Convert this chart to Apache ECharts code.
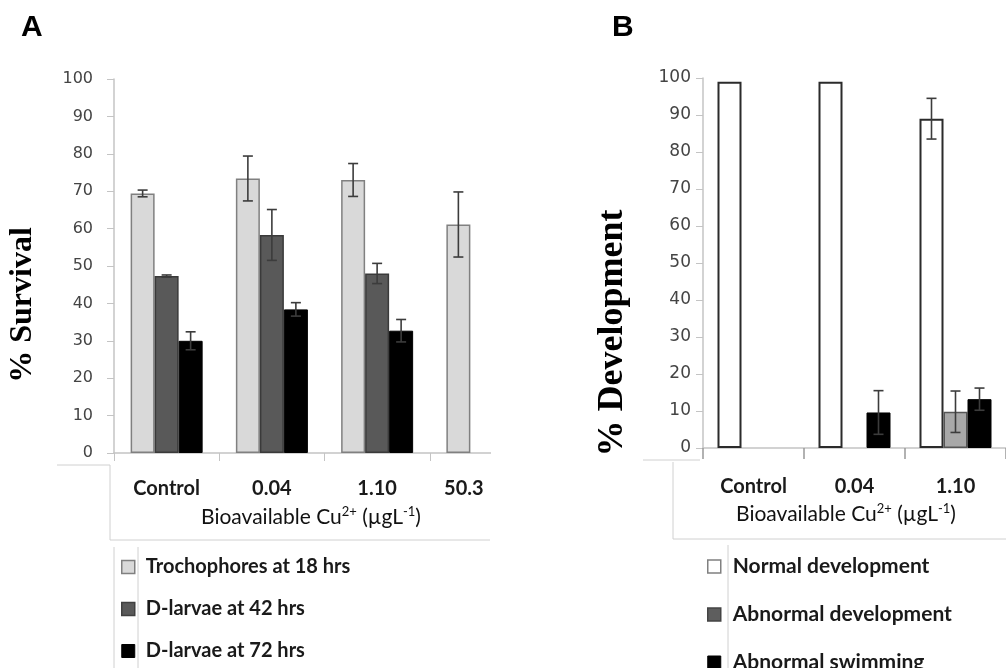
<!DOCTYPE html>
<html><head><meta charset="utf-8">
<script src="https://cdn.jsdelivr.net/npm/echarts@6/dist/echarts.min.js"></script>
<style>html,body{margin:0;padding:0;background:#fff}#c{width:1006px;height:668px}</style>
</head><body><div id="c"></div>
<script>
// ---- Panel A data ----
const catsA = ['Control', '0.04', '1.10', '50.3'];
const trochA = [69.4, 73.4, 73.0, 61.1];
const trochErrA = [0.9, 6.0, 4.4, 8.7];
const d42A = [47.3, 58.3, 48.0, null];
const d42ErrA = [0.3, 6.8, 2.7, null];
const d72A = [30.0, 38.4, 32.7, null];
const d72ErrA = [2.4, 1.8, 3.0, null];
// ---- Panel B data ----
const catsB = ['Control', '0.04', '1.10'];
const normalB = [99, 99, 89];
const normalErrB = [null, null, 5.5];
const abDevB = [null, null, 9.8];
const abDevErrB = [null, null, 5.6];
const abSwimB = [null, 9.6, 13.2];
const abSwimErrB = [null, 5.9, 3.0];

const chart = echarts.init(document.getElementById('c'), null, {renderer: 'canvas'});
const BW = 24;
function errData(vals, errs) {
  const out = [];
  vals.forEach((v, i) => { if (v != null && errs[i] != null) out.push([i, v, errs[i]]); });
  return out;
}
function errSeries(vals, errs, offset, xi) {
  return {
    type: 'custom', xAxisIndex: xi, yAxisIndex: xi, z: 5,
    data: errData(vals, errs), encode: {x: 0, y: 1},
    renderItem: function (params, api) {
      const i = api.value(0), v = api.value(1), e = api.value(2);
      const t = api.coord([i, v + e]), b = api.coord([i, v - e]);
      const x = t[0] + offset;
      const st = {stroke: '#3c3c3c', lineWidth: 1.6};
      return {type: 'group', children: [
        {type: 'line', shape: {x1: x, y1: t[1], x2: x, y2: b[1]}, style: st},
        {type: 'line', shape: {x1: x - 5, y1: t[1], x2: x + 5, y2: t[1]}, style: st},
        {type: 'line', shape: {x1: x - 5, y1: b[1], x2: x + 5, y2: b[1]}, style: st}
      ]};
    }
  };
}
const gridLine = '#c4c4c4';
function yAxis(gi, fs, margin) {
  return {
    type: 'value', gridIndex: gi, min: 0, max: 100, interval: 10,
    axisLine: {show: true, lineStyle: {color: gridLine, width: 1.5}},
    axisTick: {show: true, length: 7, lineStyle: {color: gridLine}},
    splitLine: {show: false},
    axisLabel: {color: '#444', fontFamily: 'DejaVu Sans', fontSize: fs, margin: margin}
  };
}
const supRich = {
  sup: {fontSize: 13, fontFamily: 'Lato', color: '#111', verticalAlign: 'top', lineHeight: 14},
  n: {fontSize: 21, fontFamily: 'Lato', color: '#111', lineHeight: 24}
};
const axisName = '{n|Bioavailable Cu}{sup|2+}{n| (µgL}{sup|-1}{n|)}';

const option = {
  animation: false,
  backgroundColor: '#fff',
  grid: [
    {left: 114, top: 79, width: 421, bottom: 215, containLabel: false},
    {left: 703, top: 78, width: 321, bottom: 220, containLabel: false}
  ],
  xAxis: [
    {type: 'category', gridIndex: 0, data: catsA,
      axisLine: {show: true, lineStyle: {color: gridLine, width: 1.5}},
      axisTick: {show: true, length: 8, lineStyle: {color: gridLine}},
      axisLabel: {margin: 26, fontFamily: 'Lato', fontWeight: 'bold', fontSize: 20, color: '#1a1a1a',
        formatter: function (v) { return v === '50.3' ? '{s|' + v + '}' : v; },
        rich: {s: {fontFamily: 'Lato', fontWeight: 'bold', fontSize: 20, color: '#1a1a1a', padding: [0, 37, 0, 0]}}},
      name: axisName, nameLocation: 'middle', nameGap: 52,
      nameTextStyle: {rich: supRich, padding: [0, 27, 0, 0]}
    },
    {type: 'category', gridIndex: 1, data: catsB,
      axisLine: {show: true, lineStyle: {color: gridLine, width: 1.5}},
      axisTick: {show: true, length: 11, lineStyle: {color: '#999', width: 1.5}},
      axisLabel: {margin: 29, fontFamily: 'Lato', fontWeight: 'bold', fontSize: 20, color: '#1a1a1a'},
      name: axisName, nameLocation: 'middle', nameGap: 54,
      nameTextStyle: {rich: supRich, padding: [0, 17, 0, 0]}
    }
  ],
  yAxis: [
    Object.assign(yAxis(0, 16, 21), {name: '% Survival', nameLocation: 'middle', nameGap: 75, nameRotate: 90,
      nameTextStyle: {fontFamily: 'Liberation Serif', fontWeight: 'bold', fontSize: 32, color: '#000', padding: [0, 78, 0, 0]}}),
    Object.assign(yAxis(1, 17, 12), {name: '% Development', nameLocation: 'middle', nameGap: 72, nameRotate: 90,
      nameTextStyle: {fontFamily: 'Liberation Serif', fontWeight: 'bold', fontSize: 36, color: '#000', padding: [0, 140, 0, 0]}})
  ],
  legend: [
    {orient: 'vertical', left: 121, top: 557, height: 130, padding: 0, itemWidth: 13, itemHeight: 13, itemGap: 22, selectedMode: false,
      textStyle: {fontFamily: 'Lato', fontWeight: 'bold', fontSize: 20, color: '#1a1a1a', lineHeight: 20, padding: [0, 0, 0, 6]},
      data: [
        {name: 'Trochophores at 18 hrs', icon: 'rect', itemStyle: {color: '#d9d9d9', borderColor: '#808080', borderWidth: 1.5}},
        {name: 'D-larvae at 42 hrs', icon: 'rect', itemStyle: {color: '#595959', borderColor: '#404040', borderWidth: 1.5}},
        {name: 'D-larvae at 72 hrs', icon: 'rect', itemStyle: {color: '#000', borderColor: '#000', borderWidth: 1}}
      ]},
    {orient: 'vertical', left: 707, top: 556, height: 130, padding: 0, itemWidth: 13, itemHeight: 13, itemGap: 27, selectedMode: false,
      textStyle: {fontFamily: 'Lato', fontWeight: 'bold', fontSize: 21, color: '#1a1a1a', lineHeight: 20, padding: [0, 0, 0, 7]},
      data: [
        {name: 'Normal development', icon: 'rect', itemStyle: {color: '#fff', borderColor: '#808080', borderWidth: 1.5}},
        {name: 'Abnormal development', icon: 'rect', itemStyle: {color: '#5e5e5e', borderColor: '#444', borderWidth: 1.5}},
        {name: 'Abnormal swimming', icon: 'rect', itemStyle: {color: '#000', borderColor: '#000', borderWidth: 1}}
      ]}
  ],
  series: [
    {name: 'Trochophores at 18 hrs', type: 'bar', xAxisIndex: 0, yAxisIndex: 0, data: trochA, barWidth: BW, barGap: '0%',
      itemStyle: {color: '#d9d9d9', borderColor: '#808080', borderWidth: 1.5}},
    {name: 'D-larvae at 42 hrs', type: 'bar', xAxisIndex: 0, yAxisIndex: 0, data: d42A, barWidth: BW, barGap: '0%',
      itemStyle: {color: '#595959', borderColor: '#3a3a3a', borderWidth: 1.5}},
    {name: 'D-larvae at 72 hrs', type: 'bar', xAxisIndex: 0, yAxisIndex: 0, data: d72A, barWidth: BW, barGap: '0%',
      itemStyle: {color: '#000', borderColor: '#000', borderWidth: 1}},
    errSeries(trochA, trochErrA, -BW, 0),
    errSeries(d42A, d42ErrA, 0, 0),
    errSeries(d72A, d72ErrA, BW, 0),
    {name: 'Normal development', type: 'bar', xAxisIndex: 1, yAxisIndex: 1, data: normalB, barWidth: BW, barGap: '0%',
      itemStyle: {color: '#fff', borderColor: '#2b2b2b', borderWidth: 2}},
    {name: 'Abnormal development', type: 'bar', xAxisIndex: 1, yAxisIndex: 1, data: abDevB, barWidth: BW, barGap: '0%',
      itemStyle: {color: '#a8a8a8', borderColor: '#555', borderWidth: 1.5}},
    {name: 'Abnormal swimming', type: 'bar', xAxisIndex: 1, yAxisIndex: 1, data: abSwimB, barWidth: BW, barGap: '0%',
      itemStyle: {color: '#000', borderColor: '#000', borderWidth: 1}},
    errSeries(normalB, normalErrB, -BW, 1),
    errSeries(abDevB, abDevErrB, 0, 1),
    errSeries(abSwimB, abSwimErrB, BW, 1)
  ],
  graphic: [
    // crop mask at right edge of panel A
    {type: 'rect', z: 100, shape: {x: 491, y: 55, width: 60, height: 420}, style: {fill: '#fff'}},
    // panel A chart-area frame lines
    {type: 'line', z: 101, shape: {x1: 57, y1: 465, x2: 110, y2: 465}, style: {stroke: '#d0d0d0', lineWidth: 1}},
    {type: 'line', z: 101, shape: {x1: 110, y1: 465, x2: 110, y2: 540}, style: {stroke: '#d0d0d0', lineWidth: 1}},
    {type: 'line', z: 101, shape: {x1: 110, y1: 540, x2: 490, y2: 540}, style: {stroke: '#d0d0d0', lineWidth: 1}},
    {type: 'line', z: 101, shape: {x1: 114, y1: 547, x2: 114, y2: 668}, style: {stroke: '#d0d0d0', lineWidth: 1}},
    {type: 'line', z: 101, shape: {x1: 138, y1: 547, x2: 138, y2: 668}, style: {stroke: '#d0d0d0', lineWidth: 1}},
    // panel B frame lines
    {type: 'line', z: 101, shape: {x1: 643, y1: 460, x2: 700, y2: 460}, style: {stroke: '#d0d0d0', lineWidth: 1}},
    {type: 'line', z: 101, shape: {x1: 673, y1: 462, x2: 673, y2: 539}, style: {stroke: '#d0d0d0', lineWidth: 1}},
    {type: 'line', z: 101, shape: {x1: 673, y1: 539, x2: 1006, y2: 539}, style: {stroke: '#d0d0d0', lineWidth: 1}},
    {type: 'line', z: 101, shape: {x1: 728, y1: 545, x2: 728, y2: 668}, style: {stroke: '#d0d0d0', lineWidth: 1}},
    // panel letters
    {type: 'text', z: 101, left: 21, top: 13, style: {text: 'A', font: 'bold 30px "Liberation Sans"', fill: '#000'}},
    {type: 'text', z: 101, left: 612, top: 13, style: {text: 'B', font: 'bold 30px "Liberation Sans"', fill: '#000'}}
  ]
};
chart.setOption(option);
</script></body></html>
